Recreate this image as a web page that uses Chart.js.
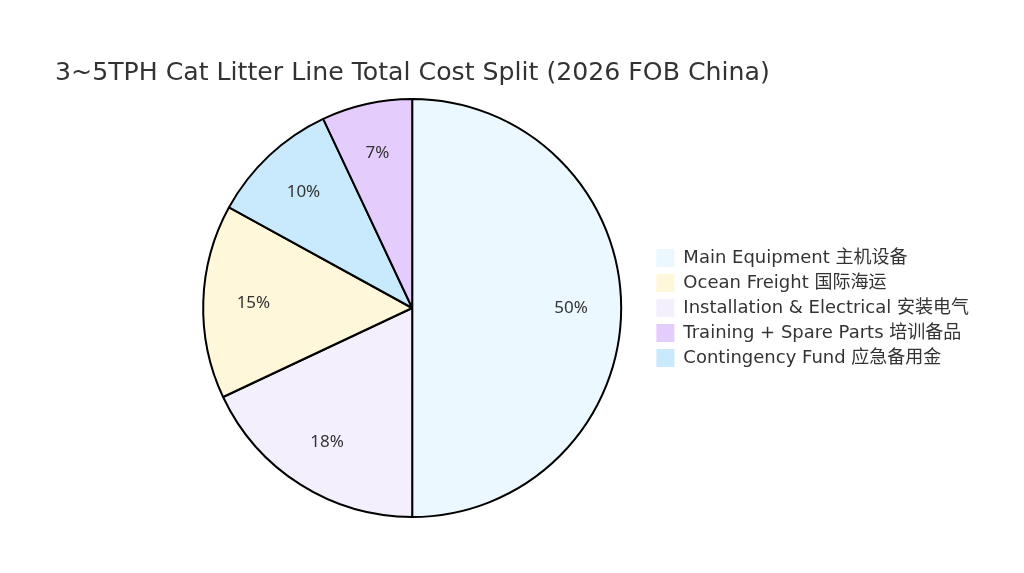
<!DOCTYPE html>
<html>
<head>
<meta charset="utf-8">
<script src="https://cdn.jsdelivr.net/npm/chart.js@4.4.1/dist/chart.umd.min.js"></script>
<style>
  html, body { margin: 0; padding: 0; background: #fff; }
  #wrap { position: relative; width: 1024px; height: 573px; }
</style>
</head>
<body>
<div id="wrap"><canvas id="pie" width="1024" height="573"></canvas></div>
<script>
// legend order as in the source
const categories = [
  'Main Equipment 主机设备',
  'Ocean Freight 国际海运',
  'Installation & Electrical 安装电气',
  'Training + Spare Parts 培训备品',
  'Contingency Fund 应急备用金'
];
const shares = [50, 15, 18, 7, 10];
const sliceColors = ['#ecf8ff', '#fef7d9', '#f4effd', '#e4cdfc', '#c9eafd'];
const chartTitle = '3~5TPH Cat Litter Line Total Cost Split (2026 FOB China)';

const FONT = "'DejaVu Sans', 'Noto Sans CJK SC', sans-serif";
const LABEL_FONT = "'Noto Sans', 'Noto Sans CJK SC', sans-serif";

// slices are drawn biggest first, clockwise from 12 o'clock
const order = categories.map((c, i) => i).sort((a, b) => shares[b] - shares[a]);

const titlePlugin = {
  id: 'titleText',
  afterDraw(chart) {
    const ctx = chart.ctx;
    ctx.save();
    ctx.font = '25.2px ' + FONT;
    ctx.fillStyle = '#333';
    ctx.textBaseline = 'middle';
    ctx.textAlign = 'left';
    ctx.fillText(chartTitle, 55, 73);
    ctx.restore();
  }
};

const pctLabels = {
  id: 'pctLabels',
  afterDatasetsDraw(chart) {
    const ctx = chart.ctx;
    const meta = chart.getDatasetMeta(0);
    const vals = chart.data.datasets[0].data;
    const total = vals.reduce((a, b) => a + b, 0);
    ctx.save();
    ctx.font = '17px ' + LABEL_FONT;
    ctx.fillStyle = '#333';
    ctx.textAlign = 'center';
    ctx.textBaseline = 'middle';
    meta.data.forEach((arc, i) => {
      const p = arc.getProps(['x', 'y', 'startAngle', 'endAngle', 'outerRadius'], true);
      const mid = (p.startAngle + p.endAngle) / 2;
      const r = p.outerRadius * 0.76;
      const pct = Math.round(vals[i] / total * 100) + '%';
      ctx.fillText(pct, p.x + Math.cos(mid) * r, p.y + Math.sin(mid) * r);
    });
    ctx.restore();
  }
};

new Chart(document.getElementById('pie'), {
  type: 'pie',
  data: {
    labels: order.map(i => categories[i]),
    datasets: [{
      data: order.map(i => shares[i]),
      backgroundColor: order.map(i => sliceColors[i]),
      borderColor: '#000',
      borderWidth: 2
    }]
  },
  options: {
    responsive: false,
    animation: false,
    layout: { padding: { left: 175, right: 45, top: 98, bottom: 55 } },
    plugins: {
      tooltip: { enabled: false },
      legend: {
        position: 'right',
        labels: {
          font: { family: FONT, size: 18 },
          color: '#333',
          boxWidth: 18,
          boxHeight: 18,
          padding: 7,
          sort: (a, b) => order[a.index] - order[b.index],
          generateLabels(chart) {
            const items = Chart.overrides.pie.plugins.legend.labels.generateLabels(chart);
            items.forEach(it => { it.lineWidth = 0; it.strokeStyle = 'rgba(0,0,0,0)'; });
            return items;
          }
        }
      }
    }
  },
  plugins: [titlePlugin, pctLabels]
});
</script>
</body>
</html>
